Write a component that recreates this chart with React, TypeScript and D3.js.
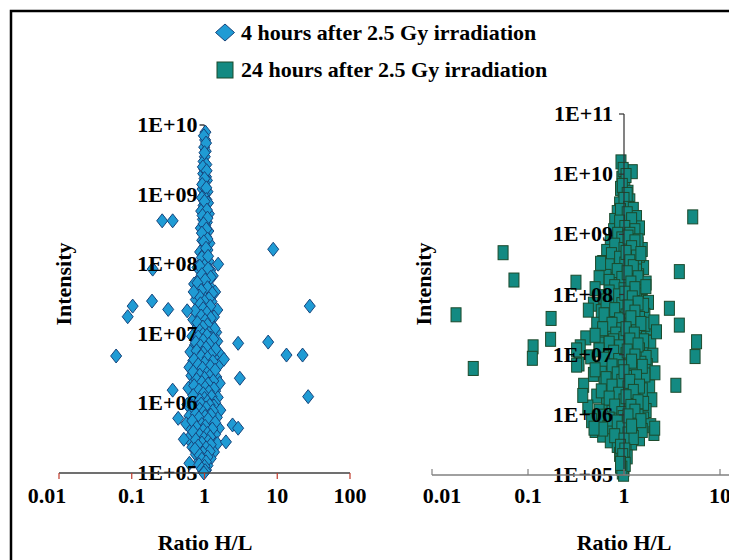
import React from "react";
import * as d3 from "d3";

// ---------- DATA ----------
const seriesNames = [
  "4 hours after 2.5 Gy irradiation",
  "24 hours after 2.5 Gy irradiation",
];

// [ratio H/L, intensity]
const hours4Points: [number, number][] = [
  // upper column
  [1.03, 7.9e9], [1.02, 6.1e9], [0.99, 4.8e9], [1.04, 4.2e9], [1.01, 3.5e9], [0.97, 3.0e9],
  [1.06, 2.7e9], [1.0, 2.3e9], [0.96, 2.0e9], [1.05, 1.8e9], [1.08, 1.6e9], [0.98, 1.5e9],
  [1.02, 1.3e9], [0.94, 1.2e9], [1.1, 1.1e9], [1.0, 1.0e9],
  [0.98, 7e9], [1.05, 5.5e9], [1.0, 4e9], [0.95, 2.5e9], [1.07, 2.2e9], [1.0, 1.7e9],
  [0.93, 1.4e9], [1.06, 1.25e9],
  [0.92, 9e8], [1.06, 8.5e8], [1.12, 7.6e8], [0.97, 7e8], [1.03, 6.4e8], [0.9, 5.8e8],
  [1.15, 5.3e8], [1.0, 4.9e8], [0.95, 4.4e8], [1.08, 4e8], [1.02, 3.6e8], [0.89, 3.3e8],
  [1.13, 3e8], [0.98, 2.7e8], [1.05, 2.5e8], [0.93, 2.2e8], [1.17, 2e8], [1.0, 1.8e8],
  [1.1, 1.6e8], [0.87, 1.5e8], [0.96, 1.35e8], [1.04, 1.2e8], [1.14, 1.1e8], [0.91, 1.05e8],
  [1.0, 8e8], [1.08, 6e8], [0.94, 5e8], [1.1, 4.6e8], [0.97, 3.8e8], [1.06, 3.2e8],
  [0.92, 2.8e8], [1.1, 2.3e8], [0.98, 2.1e8], [1.05, 1.7e8], [0.92, 1.25e8], [1.12, 1.3e8],
  // middle
  [1.0, 9.5e7], [0.8, 9e7], [1.2, 8.2e7], [0.95, 7.5e7], [1.3, 6.8e7], [0.85, 6.2e7],
  [1.08, 5.6e7], [0.72, 5.2e7], [1.18, 4.8e7], [0.98, 4.4e7], [1.4, 4e7], [0.88, 3.7e7],
  [1.05, 3.4e7], [0.76, 3.1e7], [1.25, 2.9e7], [0.93, 2.6e7], [1.12, 2.4e7], [1.5, 2.2e7],
  [0.82, 2.05e7], [1.0, 1.9e7], [1.35, 1.75e7], [0.7, 1.6e7], [1.15, 1.5e7], [0.9, 1.4e7],
  [1.28, 1.3e7], [0.78, 1.2e7], [1.05, 1.12e7], [1.45, 1.05e7],
  [0.86, 9.4e7], [1.12, 8.6e7], [0.92, 7.1e7], [1.22, 6.5e7], [1.02, 5.9e7], [0.8, 5.4e7],
  [1.1, 4.6e7], [0.9, 4.2e7], [1.28, 3.8e7], [0.84, 3.5e7], [1.15, 3.2e7], [1.0, 2.9e7],
  [0.88, 2.7e7], [1.2, 2.5e7], [0.96, 2.3e7], [0.74, 2.15e7], [1.08, 2e7], [0.9, 1.8e7],
  [1.22, 1.68e7], [1.02, 1.55e7], [0.8, 1.45e7], [1.1, 1.35e7], [0.95, 1.25e7], [1.38, 1.18e7],
  [0.86, 1.1e7], [1.15, 1.02e7],
  // lower
  [0.95, 9.8e6], [0.68, 9.2e6], [1.22, 8.7e6], [0.85, 8.2e6], [1.5, 7.8e6], [1.02, 7.3e6],
  [0.74, 6.9e6], [1.32, 6.5e6], [0.9, 6.1e6], [1.12, 5.8e6], [0.64, 5.5e6], [1.6, 5.2e6],
  [0.8, 4.9e6], [1.0, 4.6e6], [1.38, 4.4e6], [0.7, 4.1e6], [1.18, 3.9e6], [0.88, 3.7e6],
  [1.55, 3.5e6], [0.62, 3.3e6], [1.05, 3.1e6], [0.78, 2.95e6], [1.28, 2.8e6], [0.95, 2.65e6],
  [0.66, 2.5e6], [1.45, 2.4e6], [0.84, 2.25e6], [1.1, 2.15e6], [0.72, 2.05e6], [1.62, 1.95e6],
  [0.98, 1.85e6], [1.25, 1.75e6], [0.6, 1.65e6], [0.9, 1.58e6], [1.4, 1.5e6], [0.76, 1.42e6],
  [1.08, 1.35e6], [0.82, 1.28e6], [1.52, 1.22e6], [0.68, 1.16e6], [1.2, 1.1e6], [0.94, 1.05e6],
  [1.08, 9.5e6], [0.82, 9e6], [1.32, 8.4e6], [0.96, 8e6], [0.76, 7.5e6], [1.15, 7.1e6],
  [0.88, 6.7e6], [1.05, 6.3e6], [1.42, 6e6], [0.78, 5.7e6], [0.96, 5.3e6], [1.22, 5e6],
  [0.9, 4.75e6], [1.1, 4.5e6], [0.72, 4.25e6], [1.3, 4e6], [1.0, 3.8e6], [0.82, 3.6e6],
  [1.2, 3.4e6], [0.94, 3.2e6], [1.4, 3e6], [0.7, 2.85e6], [1.08, 2.7e6], [0.86, 2.55e6],
  [1.18, 2.45e6], [1.0, 2.3e6], [0.78, 2.2e6], [1.32, 2.1e6], [0.92, 2e6], [1.12, 1.9e6],
  [0.72, 1.8e6], [1.02, 1.7e6], [1.35, 1.62e6], [0.84, 1.55e6], [1.15, 1.46e6], [0.96, 1.38e6],
  [0.7, 1.3e6], [1.25, 1.25e6], [1.0, 1.18e6], [0.86, 1.12e6], [1.1, 1.06e6], [1.4, 1.02e6],
  [0.58, 9.6e5], [1.35, 9.2e5], [0.8, 8.8e5], [1.02, 8.4e5], [1.65, 8e5], [0.7, 7.6e5],
  [1.15, 7.3e5], [0.9, 7e5], [0.62, 6.6e5], [1.48, 6.3e5], [0.98, 6e5], [0.75, 5.7e5],
  [1.25, 5.4e5], [0.56, 5.1e5], [1.08, 4.9e5], [0.85, 4.6e5], [1.58, 4.4e5], [0.66, 4.2e5],
  [1.18, 4e5], [0.92, 3.8e5], [1.4, 3.6e5], [0.72, 3.4e5], [1.05, 3.25e5], [0.6, 3.1e5],
  [1.3, 2.95e5], [0.82, 2.8e5], [1.5, 2.65e5], [0.96, 2.5e5], [0.68, 2.35e5], [1.12, 2.25e5],
  [0.88, 2.1e5], [1.35, 2e5], [0.76, 1.85e5], [1.02, 1.75e5], [1.22, 1.62e5], [0.86, 1.5e5],
  [0.94, 1.38e5], [1.1, 1.28e5], [0.98, 1.2e5], [1.05, 1.1e5], [0.96, 1.05e5],
  [0.9, 9.8e5], [1.18, 9.4e5], [0.68, 9e5], [1.05, 8.6e5], [0.86, 8.2e5], [1.3, 7.8e5],
  [0.96, 7.4e5], [0.76, 7.1e5], [1.22, 6.8e5], [1.02, 6.5e5], [0.84, 6.2e5], [1.12, 5.9e5],
  [0.68, 5.6e5], [1.4, 5.3e5], [0.92, 5e5], [1.02, 4.7e5], [0.78, 4.5e5], [1.28, 4.3e5],
  [0.96, 4.1e5], [0.7, 3.9e5], [1.1, 3.7e5], [0.86, 3.5e5], [1.2, 3.3e5], [0.98, 3.15e5],
  [0.76, 3e5], [1.12, 2.85e5], [0.92, 2.7e5], [1.22, 2.55e5], [0.82, 2.45e5], [1.05, 2.3e5],
  [0.74, 2.2e5], [1.18, 2.05e5], [0.95, 1.95e5], [0.86, 1.8e5], [1.1, 1.7e5], [0.92, 1.58e5],
  [1.05, 1.45e5], [0.84, 1.32e5], [1.0, 1.25e5], [0.92, 1.15e5], [1.02, 1.08e5],
  // scattered
  [0.262, 4.2e8], [0.365, 4.2e8], [8.8, 1.64e8], [0.194, 8.5e7], [1.54, 1e8], [0.71, 4e7],
  [0.103, 2.5e7], [0.088, 1.76e7], [0.19, 2.95e7], [0.317, 2.24e7], [0.578, 2.14e7], [28, 2.5e7],
  [0.061, 4.8e6], [2.9, 7.3e6], [7.5, 7.6e6], [13.4, 4.95e6], [22.3, 4.95e6], [1.85, 4.3e6],
  [3.06, 2.3e6], [26.6, 1.25e6], [0.365, 1.55e6], [0.435, 6.1e5], [2.43, 4.9e5], [2.9, 4.4e5],
  [0.52, 3.05e5], [1.97, 2.8e5], [0.62, 1.38e5], [0.98, 1e5],
];

const hours24Points: [number, number][] = [
  // top
  [0.93, 1.6e10], [1.22, 1.1e10], [0.95, 8.5e9], [1.02, 7e9], [0.92, 5.8e9], [1.1, 5e9],
  [0.98, 4.2e9], [1.15, 3.6e9], [0.9, 3.2e9], [1.05, 2.9e9],
  [0.98, 1.2e10], [1.05, 9.5e9], [0.96, 6.5e9], [1.08, 4.6e9], [1.0, 3.8e9], [1.12, 2.7e9],
  [1.25, 2.6e9], [0.85, 2.3e9], [1.0, 2.1e9], [1.35, 1.9e9], [0.8, 1.7e9], [1.12, 1.55e9],
  [0.95, 1.4e9], [1.45, 1.28e9], [0.78, 1.15e9], [1.05, 1.05e9], [1.28, 9.5e8], [0.88, 8.8e8],
  [1.18, 8e8], [0.72, 7.3e8], [1.4, 6.8e8], [0.98, 6.2e8], [1.55, 5.6e8], [0.66, 5.2e8],
  [1.1, 4.8e8], [0.82, 4.4e8], [1.32, 4e8], [0.93, 3.7e8], [0.6, 3.4e8], [1.22, 3.1e8],
  [1.6, 2.8e8], [0.75, 2.6e8], [1.02, 2.4e8], [0.88, 2.2e8], [1.42, 2.05e8],
  [0.92, 2.5e9], [1.08, 2.2e9], [1.2, 1.75e9], [0.9, 1.6e9], [1.02, 1.3e9], [1.3, 1.15e9],
  [0.86, 1e9], [1.15, 1e9], [0.95, 8.4e8], [1.4, 7.8e8], [0.8, 6.6e8], [1.25, 6.4e8],
  [1.0, 5.6e8], [0.74, 4.6e8], [1.45, 4.5e8], [0.9, 4e8], [1.2, 3.8e8], [0.7, 3e8],
  [1.02, 3.2e8], [1.35, 2.6e8], [0.85, 2.5e8], [1.15, 2.15e8], [0.65, 2e8],
  // middle
  [0.55, 1.9e8], [1.15, 1.8e8], [0.7, 1.65e8], [1.7, 1.55e8], [0.95, 1.45e8], [1.3, 1.35e8],
  [0.5, 1.25e8], [0.82, 1.15e8], [1.5, 1.08e8], [1.05, 1e8], [0.62, 9.2e7], [1.25, 8.6e7],
  [0.9, 8e7], [1.8, 7.4e7], [0.48, 6.9e7], [0.75, 6.4e7], [1.12, 6e7], [1.45, 5.6e7],
  [0.58, 5.2e7], [0.98, 4.8e7], [1.65, 4.5e7], [0.68, 4.2e7], [1.2, 3.9e7], [0.85, 3.6e7],
  [1.38, 3.4e7], [0.52, 3.2e7], [1.0, 3e7], [1.75, 2.8e7], [0.72, 2.6e7], [1.1, 2.45e7],
  [0.6, 2.3e7], [1.5, 2.15e7], [0.92, 2.05e7],
  [0.95, 1.85e8], [1.25, 1.7e8], [0.8, 1.35e8], [1.55, 1.3e8], [1.0, 1.2e8], [0.7, 1.1e8],
  [1.35, 9.8e7], [0.88, 9.5e7], [1.15, 8.2e7], [0.65, 7.8e7], [1.6, 6.6e7], [0.95, 6.8e7],
  [0.8, 5.6e7], [1.25, 5.3e7], [1.05, 4.4e7], [0.62, 4.6e7], [1.45, 4e7], [0.9, 3.8e7],
  [0.75, 3.2e7], [1.15, 3.1e7], [1.65, 3.2e7], [0.95, 2.6e7], [0.6, 2.7e7], [1.35, 2.5e7],
  [0.82, 2.2e7], [1.2, 2e7],
  // lower
  [0.4, 1.9e7], [1.3, 1.8e7], [0.78, 1.7e7], [1.9, 1.6e7], [0.55, 1.5e7], [1.05, 1.42e7],
  [0.35, 1.35e7], [1.6, 1.28e7], [0.88, 1.2e7], [1.2, 1.12e7], [0.65, 1.05e7], [2.0, 9.8e6],
  [0.45, 9.2e6], [1.0, 8.6e6], [1.42, 8e6], [0.72, 7.5e6], [0.34, 7e6], [1.75, 6.6e6],
  [0.58, 6.2e6], [1.12, 5.8e6], [0.9, 5.4e6], [2.1, 5e6], [0.48, 4.7e6], [1.32, 4.4e6],
  [0.8, 4.1e6], [1.55, 3.8e6], [0.62, 3.55e6], [1.02, 3.3e6], [0.38, 3.1e6], [1.85, 2.9e6],
  [0.7, 2.7e6], [1.22, 2.5e6], [0.95, 2.35e6], [1.48, 2.2e6], [0.52, 2.05e6], [1.1, 1.9e6],
  [1.95, 1.78e6], [0.66, 1.66e6], [0.86, 1.55e6], [1.38, 1.45e6], [0.42, 1.35e6], [1.05, 1.26e6],
  [1.7, 1.18e6], [0.75, 1.1e6], [1.25, 1.03e6],
  [0.5, 2.1e7], [1.0, 1.85e7], [1.6, 1.7e7], [0.7, 1.55e7], [1.12, 1.55e7], [0.9, 1.35e7],
  [1.45, 1.2e7], [0.55, 1.2e7], [0.78, 1.1e7], [1.05, 1e7], [1.7, 9e6], [0.62, 8.4e6],
  [0.88, 8e6], [1.15, 7e6], [1.5, 7.2e6], [0.75, 6.5e6], [0.98, 6.3e6], [0.5, 5.6e6],
  [1.3, 5.5e6], [0.85, 4.8e6], [1.65, 4.6e6], [1.08, 4.2e6], [0.65, 4e6], [0.95, 3.6e6],
  [1.25, 3.3e6], [0.75, 3e6], [1.55, 2.6e6], [1.1, 2.8e6], [0.58, 2.5e6], [0.88, 2.2e6],
  [1.3, 2e6], [0.7, 1.9e6], [1.0, 1.7e6], [1.6, 1.55e6], [0.8, 1.4e6], [1.15, 1.3e6],
  [0.55, 1.15e6], [0.95, 1.05e6],
  [0.56, 9.5e5], [0.98, 9e5], [1.6, 8.5e5], [0.46, 8e5], [1.15, 7.5e5], [0.8, 7e5],
  [1.9, 6.6e5], [0.68, 6.2e5], [1.35, 5.8e5], [0.5, 5.5e5], [1.02, 5.2e5], [2.05, 4.9e5],
  [0.6, 4.6e5], [0.9, 4.3e5], [1.45, 4e5], [0.72, 3.7e5], [1.2, 3.4e5], [0.85, 3.1e5],
  [1.05, 2.8e5], [0.95, 2.5e5], [0.9, 2.2e5], [1.08, 2e5], [0.93, 1.8e5], [0.98, 1.6e5],
  [0.92, 1.4e5], [1.0, 1.25e5], [0.96, 1.12e5], [0.99, 1.03e5],
  [1.4, 9.5e5], [0.7, 8.5e5], [1.1, 8.2e5], [0.85, 7.6e5], [1.25, 6.9e5], [0.95, 6e5],
  [0.6, 5.8e5], [1.55, 5.5e5], [1.1, 4.8e5], [0.8, 4.5e5], [1.25, 4.2e5], [1.0, 3.8e5],
  [0.92, 3e5], [1.02, 2.6e5], [0.97, 2.1e5], [1.03, 1.5e5], [0.95, 1.3e5],
  // dense core
  [1.1, 9e8], [1.3, 7.5e8], [1.2, 6e8], [1.05, 5e8], [1.35, 4.2e8], [1.15, 3.5e8],
  [1.25, 2.9e8], [1.08, 2.3e8], [1.4, 1.9e8], [1.18, 1.55e8], [1.3, 1.25e8], [1.02, 1.05e8],
  [1.22, 8.8e7], [1.4, 7.2e7], [1.1, 6.2e7], [1.3, 5.1e7], [1.18, 4.1e7], [1.5, 3.3e7],
  [1.05, 2.7e7], [1.28, 2.2e7], [1.15, 1.75e7], [1.4, 1.45e7], [1.08, 1.15e7], [1.3, 9.5e6],
  [1.2, 7.8e6], [1.55, 6.4e6], [1.0, 5.2e6], [1.35, 4.3e6], [1.15, 3.6e6], [1.45, 3e6],
  [1.25, 2.45e6], [1.05, 2e6], [1.4, 1.65e6], [1.18, 1.38e6], [1.3, 1.15e6], [1.1, 9.6e5],
  [1.5, 8e5], [1.2, 6.5e5],
  // scattered
  [5.2, 1.95e9], [0.055, 4.95e8], [3.77, 2.4e8], [0.0714, 1.74e8], [0.316, 1.6e8],
  [0.0178, 4.6e7], [0.174, 4e7], [2.97, 5.9e7], [3.77, 3.1e7], [2.05, 3.5e7], [2.18, 2.4e7],
  [5.7, 1.64e7], [5.5, 9.3e6], [0.172, 1.8e7], [0.113, 1.35e7], [0.111, 8.7e6],
  [0.0269, 5.9e6], [0.321, 1.2e7], [0.321, 6.7e6], [3.47, 3.1e6], [0.372, 2.1e6],
  [0.487, 6e5], [2.09, 6e5], [0.92, 1.56e5], [0.57, 3.3e8], [0.425, 5.5e7], [1.69, 1.35e8],
  [1.5, 4.8e8],
];

const xTicksLeft = [0.01, 0.1, 1, 10, 100];
const xTicksRight = [0.01, 0.1, 1, 10];
const yTicksLeft = [1e5, 1e6, 1e7, 1e8, 1e9, 1e10];
const yTicksRight = [1e5, 1e6, 1e7, 1e8, 1e9, 1e10, 1e11];
const xTitle = "Ratio H/L";
const yTitle = "Intensity";

// ---------- STYLE ----------
const FONT = "'Liberation Serif', 'Times New Roman', serif";
const FS = 22;
const BLUE = "#1f9bd4";
const BLUE_STROKE = "#17457c";
const TEAL = "#138a82";
const TEAL_STROKE = "#1c4a2c";

const fmtY = (v: number) => {
  const e = Math.round(Math.log10(v));
  return `1E+${String(e).padStart(2, "0")}`;
};
const fmtX = (v: number) => String(v);

export default function App() {
  // left panel scales
  const xL = d3.scaleLog().domain([0.01, 100]).range([59, 350]);
  const yL = d3.scaleLog().domain([1e5, 1e10]).range([473, 125]);
  // right panel scales
  const xR = d3.scaleLog().domain([0.01, 10]).range([432, 720]);
  const yR = d3.scaleLog().domain([1e5, 1e11]).range([475, 114]);

  const diamond = "M0,-7L5.5,0L0,7L-5.5,0Z";

  const xLabelOffsetL = (v: number) => (v === 0.01 ? -12 : 0);
  const xLabelOffsetR = (v: number) => (v === 0.01 ? 10 : 0);

  return (
    <svg
      width={729}
      height={560}
      style={{ position: "absolute", left: 0, top: 0, background: "#fff" }}
      fontFamily={FONT}
      fontWeight="bold"
    >
      <rect x={0} y={0} width={729} height={560} fill="#fff" />
      {/* frame */}
      <path d="M11,560V11H729" fill="none" stroke="#000" strokeWidth={2.5} />

      {/* legend */}
      <path d="M225,24L234.5,32.5L225,41L215.5,32.5Z" fill={BLUE} stroke={BLUE_STROKE} strokeWidth={1} />
      <text x={241} y={40} fontSize={FS}>{seriesNames[0]}</text>
      <rect x={217} y={62} width={16} height={16} fill={TEAL} stroke={TEAL_STROKE} strokeWidth={1} />
      <text x={241} y={77} fontSize={FS}>{seriesNames[1]}</text>

      {/* ===== LEFT PANEL ===== */}
      <line x1={xL(1)} x2={xL(1)} y1={yL(1e10)} y2={yL(1e5)} stroke="#404040" strokeWidth={1.5} />
      {yTicksLeft.map((t) => (
        <line key={"ylt" + t} x1={xL(1) - 5} x2={xL(1)} y1={yL(t)} y2={yL(t)} stroke="#404040" strokeWidth={1.5} />
      ))}
      <g>
        {hours4Points.map(([r, v], i) => (
          <path
            key={"l" + i}
            d={diamond}
            transform={`translate(${xL(r)},${yL(v)})`}
            fill={BLUE}
            stroke={BLUE_STROKE}
            strokeWidth={1}
          />
        ))}
      </g>
      {yTicksLeft.map((t) => (
        <text key={"yll" + t} x={xL(1) - 7} y={yL(t) + 7} fontSize={FS} textAnchor="end" fill="#000">
          {fmtY(t)}
        </text>
      ))}
      <line x1={xL(0.01)} x2={xL(100)} y1={yL(1e5)} y2={yL(1e5)} stroke="#404040" strokeWidth={1.5} />
      {xTicksLeft.map((t) => (
        <line key={"xlt" + t} x1={xL(t)} x2={xL(t)} y1={yL(1e5)} y2={yL(1e5) + 6} stroke="#c0392b" strokeWidth={1.2} />
      ))}
      {xTicksLeft.map((t) => (
        <text key={"xll" + t} x={xL(t) + xLabelOffsetL(t)} y={503} fontSize={FS} textAnchor="middle">
          {fmtX(t)}
        </text>
      ))}
      <text x={205} y={550} fontSize={FS} textAnchor="middle">{xTitle}</text>
      <text transform={`translate(71,284) rotate(-90)`} fontSize={FS} textAnchor="middle">{yTitle}</text>

      {/* ===== RIGHT PANEL ===== */}
      <g>
        {hours24Points.map(([r, v], i) => (
          <rect
            key={"r" + i}
            x={xR(r) - 5}
            y={yR(v) - 7}
            width={10}
            height={14}
            fill={TEAL}
            stroke={TEAL_STROKE}
            strokeWidth={1}
          />
        ))}
      </g>
      <line x1={xR(1)} x2={xR(1)} y1={yR(1e11)} y2={yR(1e5)} stroke="#303030" strokeWidth={1.2} />
      {yTicksRight.map((t) => (
        <line key={"yrt" + t} x1={xR(1) - 5} x2={xR(1)} y1={yR(t)} y2={yR(t)} stroke="#303030" strokeWidth={1.2} />
      ))}
      {yTicksRight.map((t) => (
        <text key={"yrl" + t} x={xR(1) - 11} y={yR(t) + 7} fontSize={FS} textAnchor="end" fill="#000">
          {fmtY(t)}
        </text>
      ))}
      <line x1={xR(0.01)} x2={729} y1={yR(1e5)} y2={yR(1e5)} stroke="#808080" strokeWidth={1.5} />
      {xTicksRight.map((t) => (
        <line key={"xrt" + t} x1={xR(t)} x2={xR(t)} y1={yR(1e5) - 6} y2={yR(1e5)} stroke="#808080" strokeWidth={1.2} />
      ))}
      {xTicksRight.map((t) => (
        <text key={"xrl" + t} x={xR(t) + xLabelOffsetR(t)} y={503} fontSize={FS} textAnchor="middle">
          {fmtX(t)}
        </text>
      ))}
      <text x={xR(1)} y={550} fontSize={FS} textAnchor="middle">{xTitle}</text>
      <text transform={`translate(431,284) rotate(-90)`} fontSize={FS} textAnchor="middle">{yTitle}</text>
    </svg>
  );
}
